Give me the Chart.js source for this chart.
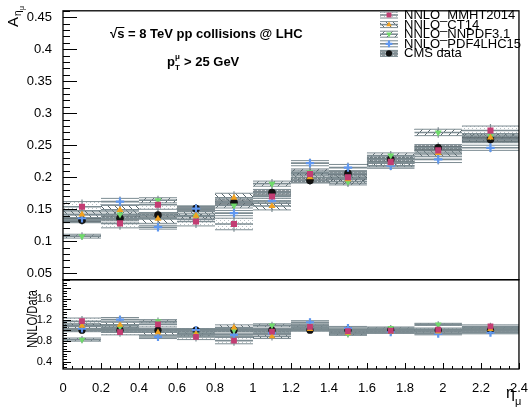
<!DOCTYPE html>
<html>
<head>
<meta charset="utf-8">
<script src="https://cdn.jsdelivr.net/npm/chart.js"></script>
<style>
  body { margin: 0; background: #fff; }
  #wrap { width: 532px; height: 410px; }
</style>
</head>
<body>
<div id="wrap"><canvas id="chart" width="532" height="410"></canvas></div>
<script>
// eta bins
const edges = [0, 0.2, 0.4, 0.6, 0.8, 1.0, 1.2, 1.4, 1.6, 1.85, 2.1, 2.4]
const centers = [0.1, 0.3, 0.5, 0.7, 0.9, 1.1, 1.3, 1.5, 1.725, 1.975, 2.25]

// asymmetry, upper pad
const cmsData = [0.133, 0.136, 0.141, 0.151, 0.161, 0.176, 0.195, 0.206, 0.228, 0.246, 0.259]
const mmht = [0.154, 0.128, 0.157, 0.131, 0.127, 0.170, 0.205, 0.200, 0.224, 0.242, 0.273]
const ct14 = [0.142, 0.149, 0.135, 0.140, 0.168, 0.155, 0.200, 0.197, 0.222, 0.238, 0.262]
const nnpdf = [0.108, 0.142, 0.164, 0.139, 0.156, 0.190, 0.208, 0.193, 0.234, 0.270, 0.264]
const pdf4lhc = [0.136, 0.162, 0.122, 0.151, 0.144, 0.163, 0.222, 0.215, 0.218, 0.228, 0.246]

const errData = [0.004, 0.004, 0.004, 0.004, 0.005, 0.005, 0.004, 0.004, 0.004, 0.005, 0.005]
const errMmht = [0.008, 0.007, 0.007, 0.007, 0.009, 0.007, 0.006, 0.006, 0.006, 0.006, 0.007]
const errCt14 = [0.006, 0.007, 0.007, 0.006, 0.007, 0.006, 0.006, 0.007, 0.006, 0.006, 0.006]
const errNnpdf = [0.003, 0.004, 0.004, 0.004, 0.004, 0.004, 0.005, 0.005, 0.004, 0.005, 0.004]
const errPdf4 = [0.005, 0.005, 0.003, 0.004, 0.004, 0.004, 0.004, 0.005, 0.004, 0.005, 0.004]

// NNLO / data, lower pad
const rData = [1, 1, 1, 1, 1, 1, 1, 1, 1, 1, 1]
const rMmht = [1.17, 0.96, 1.11, 0.87, 0.80, 0.97, 1.06, 0.98, 0.99, 1.01, 1.07]
const rCt14 = [1.08, 1.10, 0.96, 0.93, 1.05, 0.88, 1.02, 0.95, 0.97, 0.97, 1.02]
const rNnpdf = [0.82, 1.06, 1.17, 0.92, 1.00, 1.09, 1.08, 0.93, 1.04, 1.11, 1.04]
const rPdf4 = [1.03, 1.20, 0.87, 1.00, 0.91, 0.94, 1.15, 1.04, 0.96, 0.93, 0.95]

const rErrData = [0.03, 0.03, 0.03, 0.03, 0.03, 0.03, 0.02, 0.02, 0.02, 0.02, 0.02]
const rErrMmht = [0.06, 0.05, 0.05, 0.05, 0.06, 0.04, 0.03, 0.03, 0.03, 0.03, 0.03]
const rErrCt14 = [0.05, 0.05, 0.05, 0.04, 0.05, 0.04, 0.03, 0.03, 0.03, 0.03, 0.03]
const rErrNnpdf = [0.03, 0.03, 0.03, 0.03, 0.03, 0.03, 0.03, 0.03, 0.02, 0.02, 0.02]
const rErrPdf4 = [0.04, 0.04, 0.03, 0.03, 0.03, 0.03, 0.03, 0.03, 0.02, 0.02, 0.02]

// tick labels
const xTicks = [0, 0.2, 0.4, 0.6, 0.8, 1, 1.2, 1.4, 1.6, 1.8, 2, 2.2, 2.4]
const yTicks = [0.05, 0.1, 0.15, 0.2, 0.25, 0.3, 0.35, 0.4, 0.45]
const rTicks = [0.4, 0.6, 0.8, 1, 1.2, 1.4, 1.6, 1.8]

const FONT = "'Liberation Sans', Arial, sans-serif"
const LINE = '#7d8c92'

function tile(w, h, draw) {
  const c = document.createElement('canvas')
  c.width = w
  c.height = h
  const g = c.getContext('2d')
  draw(g)
  return g.createPattern(c, 'repeat')
}

const patDots = tile(4, 4, g => {
  g.fillStyle = '#b8c0c4'
  g.fillRect(0, 0, 1, 1)
  g.fillRect(2, 2, 1, 1)
})
const patBack = tile(7, 7, g => {
  g.strokeStyle = '#56646a'
  g.lineWidth = 1
  g.beginPath(); g.moveTo(-1, -1); g.lineTo(8, 8); g.stroke()
})
const patSlash = tile(8, 8, g => {
  g.strokeStyle = '#56646a'
  g.lineWidth = 1
  g.beginPath(); g.moveTo(-1, 9); g.lineTo(9, -1); g.stroke()
})
const patData = tile(4, 3, g => {
  g.fillStyle = 'rgba(95,108,114,0.7)'
  g.fillRect(0, 0, 4, 3)
  g.fillStyle = 'rgba(230,234,236,0.9)'
  g.fillRect(1, 1, 1, 1)
})

const series = [
  { label: 'NNLO_MMHT2014', vals: mmht, errs: errMmht, rvals: rMmht, rerrs: rErrMmht, fill: patDots,
    color: '#c33d73', style: 'rect', radius: 4.3, rotation: 0, bw: 0 },
  { label: 'NNLO_CT14', vals: ct14, errs: errCt14, rvals: rCt14, rerrs: rErrCt14, fill: patBack,
    color: '#f2a11f', style: 'triangle', radius: 4, rotation: 0, bw: 0 },
  { label: 'NNLO_NNPDF3.1', vals: nnpdf, errs: errNnpdf, rvals: rNnpdf, rerrs: rErrNnpdf, fill: patSlash,
    color: '#6fda6a', style: 'triangle', radius: 4, rotation: 180, bw: 0 },
  { label: 'NNLO_PDF4LHC15', vals: pdf4lhc, errs: errPdf4, rvals: rPdf4, rerrs: rErrPdf4, fill: null,
    color: '#5f97ef', style: 'cross', radius: 4.2, rotation: 0, bw: 2.2 },
  { label: 'CMS data', vals: cmsData, errs: errData, rvals: rData, rerrs: rErrData, fill: patData,
    color: '#111111', style: 'circle', radius: 3.8, rotation: 0, bw: 0 },
]

function drawBox(ctx, x0, x1, yT, yB, yC, fill) {
  if (fill) {
    ctx.fillStyle = fill
    ctx.fillRect(x0, yT, x1 - x0, yB - yT)
  }
  ctx.strokeStyle = LINE
  ctx.lineWidth = 1
  ctx.beginPath()
  ctx.moveTo(x0, yT); ctx.lineTo(x1, yT)
  ctx.moveTo(x0, yB); ctx.lineTo(x1, yB)
  ctx.stroke()
  ctx.lineWidth = 1.6
  ctx.beginPath()
  ctx.moveTo(x0, yC)
  ctx.lineTo(x1, yC)
  ctx.stroke()
}

const boxes = {
  id: 'boxes',
  beforeDatasetsDraw(chart) {
    const { ctx } = chart
    const xs = chart.scales.x
    for (const [axis, key, ekey] of [['y', 'vals', 'errs'], ['y2', 'rvals', 'rerrs']]) {
      const ys = chart.scales[axis]
      ctx.save()
      ctx.beginPath()
      ctx.rect(xs.left, ys.top, xs.right - xs.left, ys.bottom - ys.top)
      ctx.clip()
      for (const s of series) {
        s[key].forEach((v, i) => {
          const e = s[ekey][i]
          const x0 = xs.getPixelForValue(edges[i])
          const x1 = xs.getPixelForValue(edges[i + 1])
          const yT = ys.getPixelForValue(v + e)
          const yB = ys.getPixelForValue(v - e)
          drawBox(ctx, x0, x1, yT, yB, ys.getPixelForValue(v), s.fill)
          const xc = xs.getPixelForValue(centers[i])
          ctx.strokeStyle = LINE
          ctx.lineWidth = 1.2
          ctx.beginPath()
          ctx.moveTo(xc, yT - 2)
          ctx.lineTo(xc, yB + 2)
          ctx.stroke()
        })
      }
      ctx.restore()
    }
  }
}

function ticksFor(ctx, scale, from, to, step, len, vertical, base) {
  for (let v = from; v <= to + 1e-9; v += step) {
    const p = Math.round(scale.getPixelForValue(v)) + 0.5
    ctx.beginPath()
    if (vertical) { ctx.moveTo(base, p); ctx.lineTo(base + len, p) }
    else { ctx.moveTo(p, base); ctx.lineTo(p, base - len) }
    ctx.stroke()
  }
}

const frame = {
  id: 'frame',
  afterDraw(chart) {
    const { ctx } = chart
    const xs = chart.scales.x, yt = chart.scales.y, yb = chart.scales.y2
    ctx.save()
    ctx.strokeStyle = '#000'
    ctx.lineWidth = 1.3
    ctx.strokeRect(xs.left, yt.top, xs.right - xs.left, yt.bottom - yt.top)
    ctx.strokeRect(xs.left, yb.top, xs.right - xs.left, yb.bottom - yb.top)
    ctx.lineWidth = 1
    const l = xs.left
    ticksFor(ctx, yt, 0.05, 0.45, 0.05, 14, true, l)
    ticksFor(ctx, yt, 0.04, 0.46, 0.01, 7, true, l)
    ticksFor(ctx, yb, 0.4, 1.8, 0.2, 8, true, l)
    ticksFor(ctx, yb, 0.3, 1.95, 0.05, 4, true, l)
    ticksFor(ctx, xs, 0, 2.4, 0.2, 6, false, yb.bottom)
    ticksFor(ctx, xs, 0, 2.4, 0.05, 3, false, yb.bottom)

    // pad texts
    ctx.fillStyle = '#000'
    ctx.textBaseline = 'alphabetic'
    ctx.textAlign = 'left'
    ctx.font = 'bold 13px ' + FONT
    const t1 = '\u221As = 8 TeV pp collisions @ LHC'
    ctx.fillText(t1, 110, 38)
    const wr = ctx.measureText('\u221A').width
    const ws = ctx.measureText('s').width
    ctx.lineWidth = 1
    ctx.beginPath(); ctx.moveTo(110 + wr - 1, 27.5); ctx.lineTo(110 + wr + ws, 27.5); ctx.stroke()

    ctx.fillText('p', 167, 66)
    ctx.font = 'bold 8px ' + FONT
    ctx.fillText('T', 175, 70)
    ctx.fillText('\u03BC', 175, 59)
    ctx.font = 'bold 13px ' + FONT
    ctx.fillText('> 25 GeV', 184, 66)

    // legend
    ctx.font = '13px ' + FONT
    ctx.textBaseline = 'middle'
    series.forEach((s, k) => {
      const y = 15 + k * 9.6
      drawBox(ctx, 380, 398, y - 3, y + 3, y, s.fill)
      ctx.fillStyle = s.color
      ctx.strokeStyle = s.color
      ctx.lineWidth = s.bw || 1
      Chart.helpers.drawPoint(ctx, { pointStyle: s.style, radius: s.radius * 0.8, rotation: s.rotation, borderWidth: s.bw }, 389, y)
      ctx.fillStyle = '#000'
      ctx.fillText(s.label, 404, y + 0.5)
    })

    // axis titles
    ctx.textBaseline = 'alphabetic'
    ctx.save()
    ctx.translate(18, 27)
    ctx.rotate(-Math.PI / 2)
    ctx.font = '15px ' + FONT
    ctx.fillText('A', 0, 0)
    ctx.font = '10px ' + FONT
    ctx.fillText('\u03B7', 11, 3)
    ctx.font = '7px ' + FONT
    ctx.fillText('\u03BC', 17, 6)
    ctx.restore()

    ctx.save()
    ctx.translate(37, 319)
    ctx.rotate(-Math.PI / 2)
    ctx.font = '14px ' + FONT
    const w = ctx.measureText('NNLO/Data').width
    ctx.scale(58 / w, 1)
    ctx.textAlign = 'center'
    ctx.fillText('NNLO/Data', 0, 0)
    ctx.restore()

    ctx.font = '16px ' + FONT
    ctx.fillText('\u03B7', 506, 398)
    ctx.font = '11px ' + FONT
    ctx.fillText('\u03BC', 515, 405)
    ctx.restore()
  }
}

const fmt = v => String(+Number(v).toFixed(2))

const datasets = []
for (const [axis, key] of [['y', 'vals'], ['y2', 'rvals']]) {
  for (const s of series) {
    datasets.push({
      label: s.label,
      yAxisID: axis,
      data: centers.map((c, i) => ({ x: c, y: s[key][i] })),
      pointStyle: s.style,
      rotation: s.rotation,
      pointRadius: axis === 'y' ? s.radius : s.radius * 0.95,
      pointBackgroundColor: s.color,
      pointBorderColor: s.color,
      pointBorderWidth: s.bw,
      showLine: false,
    })
  }
}

new Chart('chart', {
  type: 'scatter',
  data: { datasets },
  plugins: [boxes, frame],
  options: {
    responsive: false,
    animation: false,
    events: [],
    layout: { padding: { left: 0, right: 7, top: 4, bottom: 0 } },
    plugins: { legend: { display: false }, tooltip: { enabled: false } },
    scales: {
      x: {
        type: 'linear', min: 0, max: 2.4,
        grid: { display: false }, border: { display: false },
        afterBuildTicks: s => { s.ticks = xTicks.map(value => ({ value })) },
        afterFit: s => { s.height = 41 },
        ticks: { callback: fmt, font: { family: FONT, size: 13 }, color: '#000', padding: 4, maxRotation: 0, autoSkip: false },
      },
      // lower pad listed first: the stack places it at the bottom
      y2: {
        type: 'linear', min: 0.26, max: 1.96, stack: 'pads', stackWeight: 91,
        grid: { display: false }, border: { display: false },
        afterBuildTicks: s => { s.ticks = rTicks.map(value => ({ value })) },
        afterFit: s => { s.width = 63 },
        ticks: { callback: fmt, font: { family: FONT, size: 11 }, color: '#000', padding: 3 },
      },
      y: {
        type: 'linear', min: 0.04, max: 0.46, stack: 'pads', stackWeight: 274,
        grid: { display: false }, border: { display: false },
        afterBuildTicks: s => { s.ticks = yTicks.map(value => ({ value })) },
        afterFit: s => { s.width = 63 },
        ticks: { callback: fmt, font: { family: FONT, size: 13 }, color: '#000', padding: 3 },
      },
    },
  },
})
</script>
</body>
</html>
